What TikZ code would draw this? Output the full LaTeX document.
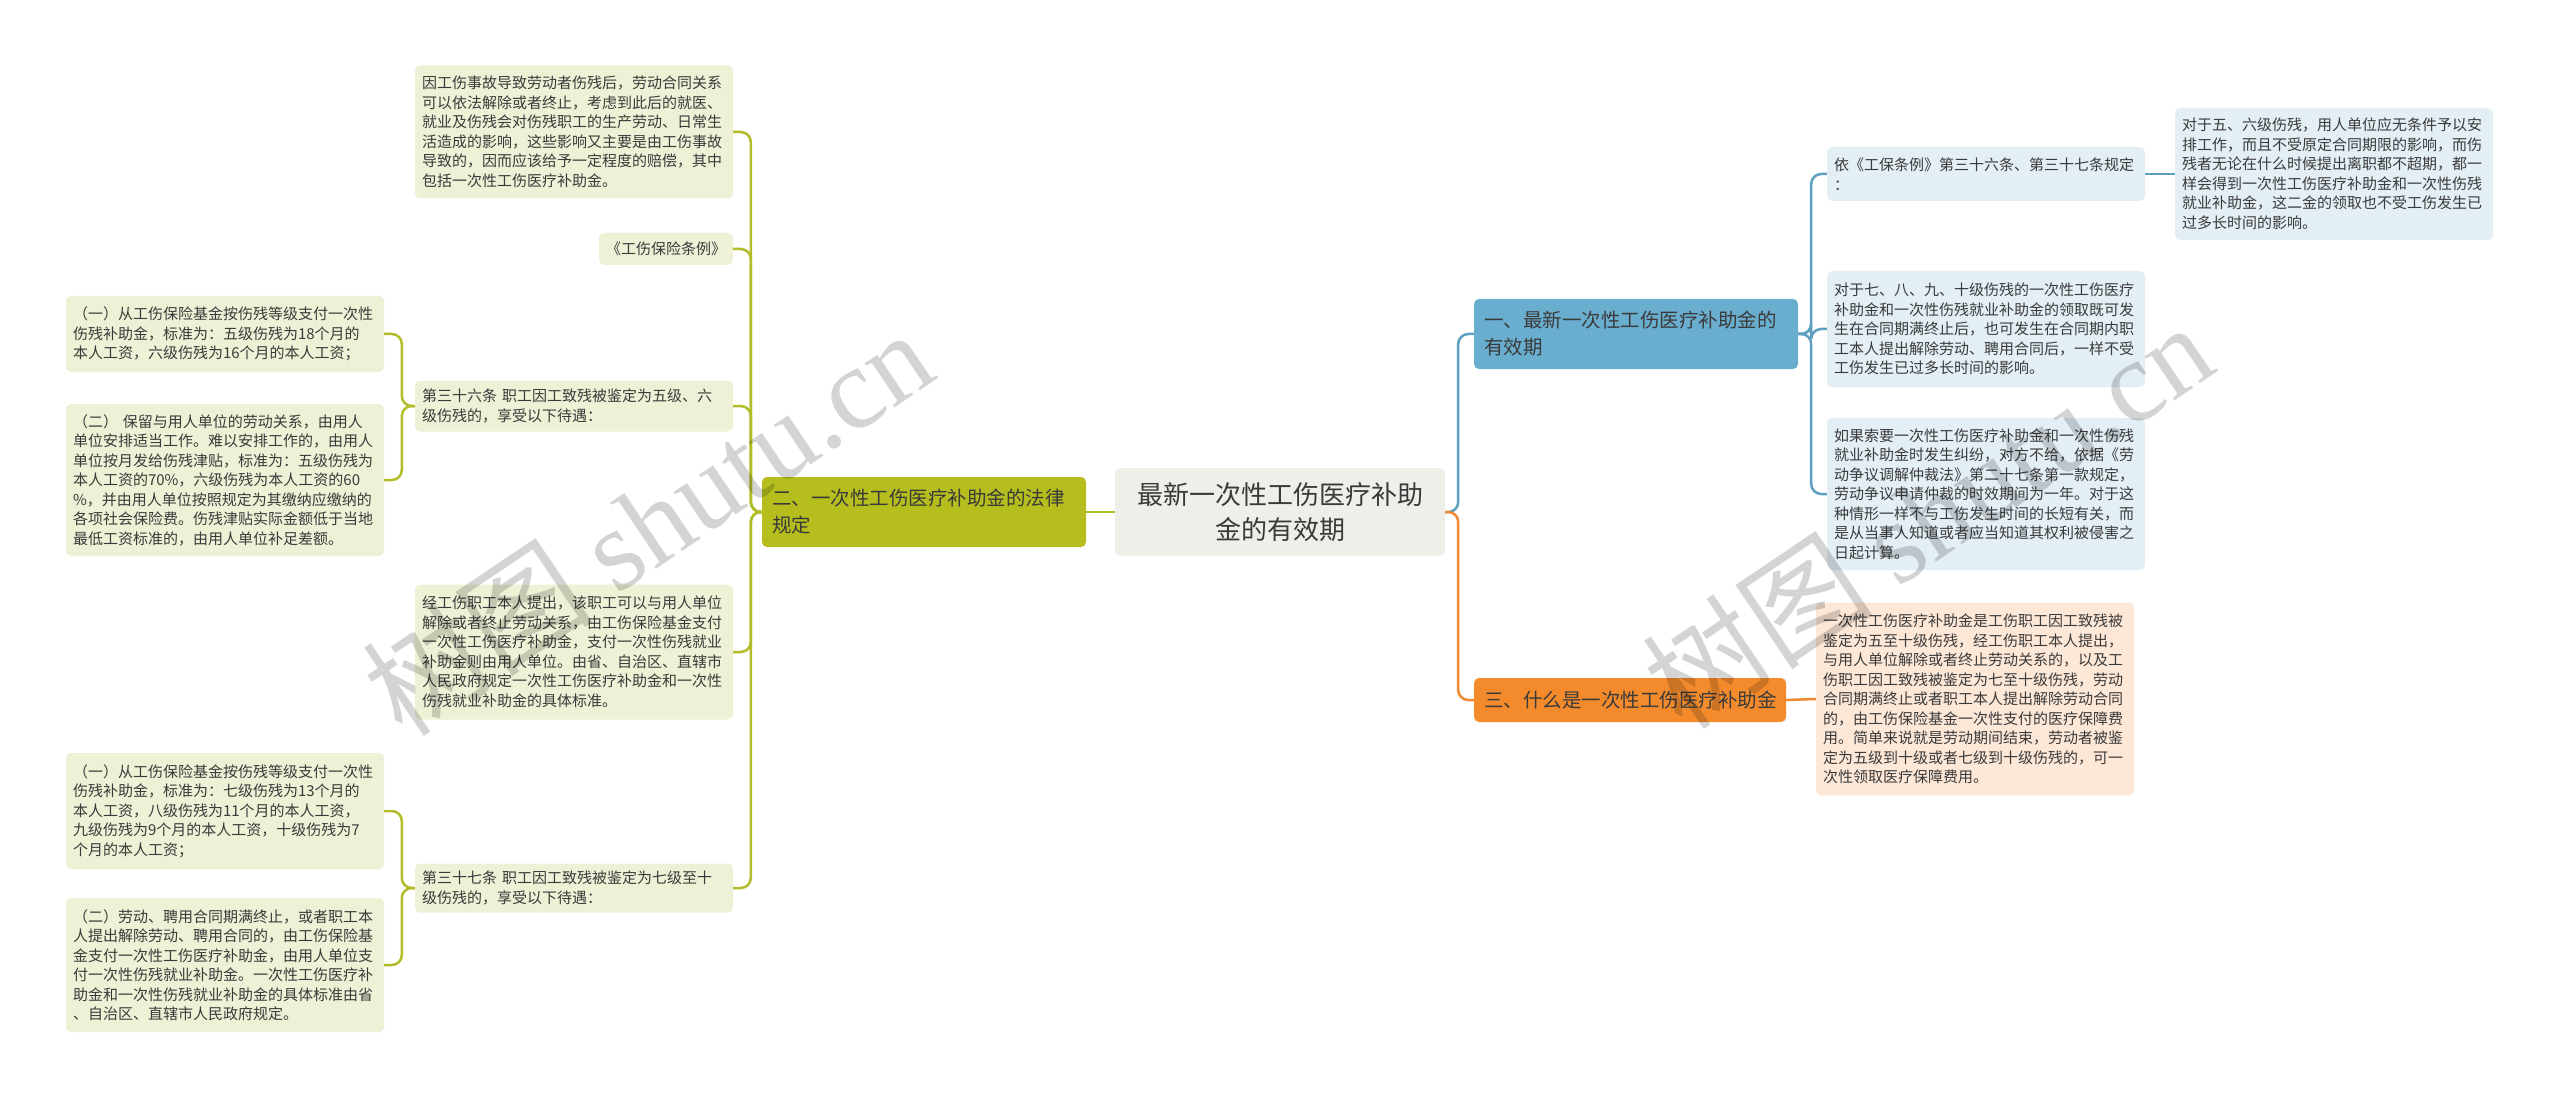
\documentclass[tikz,border=0pt]{standalone}
\usepackage{fontspec}
\setmainfont{Noto Sans CJK SC}
\newfontfamily\wmlatin{Liberation Serif}
\usetikzlibrary{calc}
\definecolor{txt}{HTML}{3A3A3A}
\definecolor{rootF}{HTML}{EFEFEA}
\definecolor{oliveF}{HTML}{B5BE1C}
\definecolor{oliveL}{HTML}{EFF1D6}
\definecolor{oliveLine}{HTML}{B3BD2A}
\definecolor{blueF}{HTML}{6AAECF}
\definecolor{blueL}{HTML}{E3EEF5}
\definecolor{blueLine}{HTML}{5F9FC0}
\definecolor{orangeF}{HTML}{F38B2C}
\definecolor{orangeL}{HTML}{FDE8D8}
\definecolor{orangeLine}{HTML}{EF8A33}
\newcommand{\fsleaf}{\fontsize{15}{19.5}\selectfont}
\newcommand{\fsbr}{\fontsize{19.5}{27}\selectfont}
\newcommand{\fsroot}{\fontsize{26}{35}\selectfont}
\newcommand{\fswm}{\fontsize{116}{116}\selectfont}
\begin{document}
\begin{tikzpicture}[x=1pt,y=-1pt,
  leaf/.style={rounded corners=5pt, text width=304pt, inner xsep=7pt, inner ysep=5pt, align=left, font=\fsleaf, text=txt},
  leafO/.style={leaf, fill=oliveL},
  leafB/.style={leaf, fill=blueL},
  leafR/.style={leaf, fill=orangeL},
  branch/.style={rounded corners=5pt, text width=304pt, inner xsep=10pt, inner ysep=5pt, align=left, font=\fsbr, text=txt},
  rootbox/.style={rounded corners=6pt, fill=rootF, text width=310pt, inner xsep=10pt, align=center, font=\fsroot, text=txt},
  lineO/.style={draw=oliveLine, line width=2.5pt, rounded corners=10pt},
  lineB/.style={draw=blueLine, line width=2.5pt, rounded corners=10pt},
  lineR/.style={draw=orangeLine, line width=2.5pt, rounded corners=10pt},
  wm/.style={rotate=34, text=black, opacity=0.17, font=\fswm, inner sep=0pt}
]
\useasboundingbox[fill=white] (0,0) rectangle (2560,1099);

% root and branches
\node[rootbox, minimum height=88pt] (root) at (1280,512) {最新一次性工伤医疗补助\\金的有效期};
\node[branch, fill=oliveF, minimum height=70pt] (n2) at (924,512) {二、一次性工伤医疗补助金的法律\\规定};
\node[branch, fill=blueF, minimum height=70pt] (n1) at (1636,334) {一、最新一次性工伤医疗补助金的\\有效期};
\node[branch, fill=orangeF, text width=292pt, minimum height=44pt] (n3) at (1630,700) {三、什么是一次性工伤医疗补助金};

% left leaves
\node[leafO, minimum height=133pt] (L1) at (574,132) {因工伤事故导致劳动者伤残后，劳动合同关系\\可以依法解除或者终止，考虑到此后的就医、\\就业及伤残会对伤残职工的生产劳动、日常生\\活造成的影响，这些影响又主要是由工伤事故\\导致的，因而应该给予一定程度的赔偿，其中\\包括一次性工伤医疗补助金。};
\node[leafO, text width=120pt, minimum height=32pt] (L2) at (666,249) {《工伤保险条例》};
\node[leafO, minimum height=51pt] (L3) at (574,406) {第三十六条 职工因工致残被鉴定为五级、六\\级伤残的，享受以下待遇：};
\node[leafO, minimum height=135pt] (L4) at (574,652) {经工伤职工本人提出，该职工可以与用人单位\\解除或者终止劳动关系，由工伤保险基金支付\\一次性工伤医疗补助金，支付一次性伤残就业\\补助金则由用人单位。由省、自治区、直辖市\\人民政府规定一次性工伤医疗补助金和一次性\\伤残就业补助金的具体标准。};
\node[leafO, minimum height=49pt] (L5) at (574,888) {第三十七条 职工因工致残被鉴定为七级至十\\级伤残的，享受以下待遇：};
\node[leafO, minimum height=76pt] (L3a) at (225,334) {（一）从工伤保险基金按伤残等级支付一次性\\伤残补助金，标准为：五级伤残为18个月的\\本人工资，六级伤残为16个月的本人工资；};
\node[leafO, minimum height=152pt] (L3b) at (225,480) {（二） 保留与用人单位的劳动关系，由用人\\单位安排适当工作。难以安排工作的，由用人\\单位按月发给伤残津贴，标准为：五级伤残为\\本人工资的70\%，六级伤残为本人工资的60\\\%，并由用人单位按照规定为其缴纳应缴纳的\\各项社会保险费。伤残津贴实际金额低于当地\\最低工资标准的，由用人单位补足差额。};
\node[leafO, minimum height=116pt] (L5a) at (225,811) {（一）从工伤保险基金按伤残等级支付一次性\\伤残补助金，标准为：七级伤残为13个月的\\本人工资，八级伤残为11个月的本人工资，\\九级伤残为9个月的本人工资，十级伤残为7\\个月的本人工资；};
\node[leafO, minimum height=134pt] (L5b) at (225,965) {（二）劳动、聘用合同期满终止，或者职工本\\人提出解除劳动、聘用合同的，由工伤保险基\\金支付一次性工伤医疗补助金，由用人单位支\\付一次性伤残就业补助金。一次性工伤医疗补\\助金和一次性伤残就业补助金的具体标准由省\\、自治区、直辖市人民政府规定。};

% right leaves
\node[leafB, minimum height=54pt] (B1) at (1986,174) {依《工保条例》第三十六条、第三十七条规定\\：};
\node[leafB, minimum height=132pt] (B1a) at (2334,174) {对于五、六级伤残，用人单位应无条件予以安\\排工作，而且不受原定合同期限的影响，而伤\\残者无论在什么时候提出离职都不超期，都一\\样会得到一次性工伤医疗补助金和一次性伤残\\就业补助金，这二金的领取也不受工伤发生已\\过多长时间的影响。};
\node[leafB, minimum height=116pt] (B2) at (1986,329) {对于七、八、九、十级伤残的一次性工伤医疗\\补助金和一次性伤残就业补助金的领取既可发\\生在合同期满终止后，也可发生在合同期内职\\工本人提出解除劳动、聘用合同后，一样不受\\工伤发生已过多长时间的影响。};
\node[leafB, minimum height=152pt] (B3) at (1986,494) {如果索要一次性工伤医疗补助金和一次性伤残\\就业补助金时发生纠纷，对方不给，依据《劳\\动争议调解仲裁法》第二十七条第一款规定，\\劳动争议申请仲裁的时效期间为一年。对于这\\种情形一样不与工伤发生时间的长短有关，而\\是从当事人知道或者应当知道其权利被侵害之\\日起计算。};
\node[leafR, minimum height=193pt] (O1) at (1975,699) {一次性工伤医疗补助金是工伤职工因工致残被\\鉴定为五至十级伤残，经工伤职工本人提出，\\与用人单位解除或者终止劳动关系的，以及工\\伤职工因工致残被鉴定为七至十级伤残，劳动\\合同期满终止或者职工本人提出解除劳动合同\\的，由工伤保险基金一次性支付的医疗保障费\\用。简单来说就是劳动期间结束，劳动者被鉴\\定为五级到十级或者七级到十级伤残的，可一\\次性领取医疗保障费用。};

% connectors left
\draw[lineO] (root.west) -- (n2.east);
\foreach \c in {L1,L2,L3,L4,L5} \draw[lineO] (n2.west) -- ++(-11,0) |- (\c.east);
\foreach \c in {L3a,L3b} \draw[lineO] (L3.west) -- ++(-13,0) |- (\c.east);
\foreach \c in {L5a,L5b} \draw[lineO] (L5.west) -- ++(-13,0) |- (\c.east);

% connectors right
\draw[lineB] (root.east) -- ++(13,0) |- (n1.west);
\draw[lineR] (root.east) -- ++(13,0) |- (n3.west);
\foreach \c in {B1,B2,B3} \draw[lineB] (n1.east) -- ++(13,0) |- (\c.west);
\draw[lineB] (B1.east) -- (B1a.west);
\draw[lineR] (n3.east) -- (O1.west);

% watermarks
\node[wm] (wm1) at (647,522) {树图 {\wmlatin shutu.cn}};
\node[wm] (wm2) at (1927,515) {树图 {\wmlatin shutu.cn}};
\end{tikzpicture}
\end{document}
